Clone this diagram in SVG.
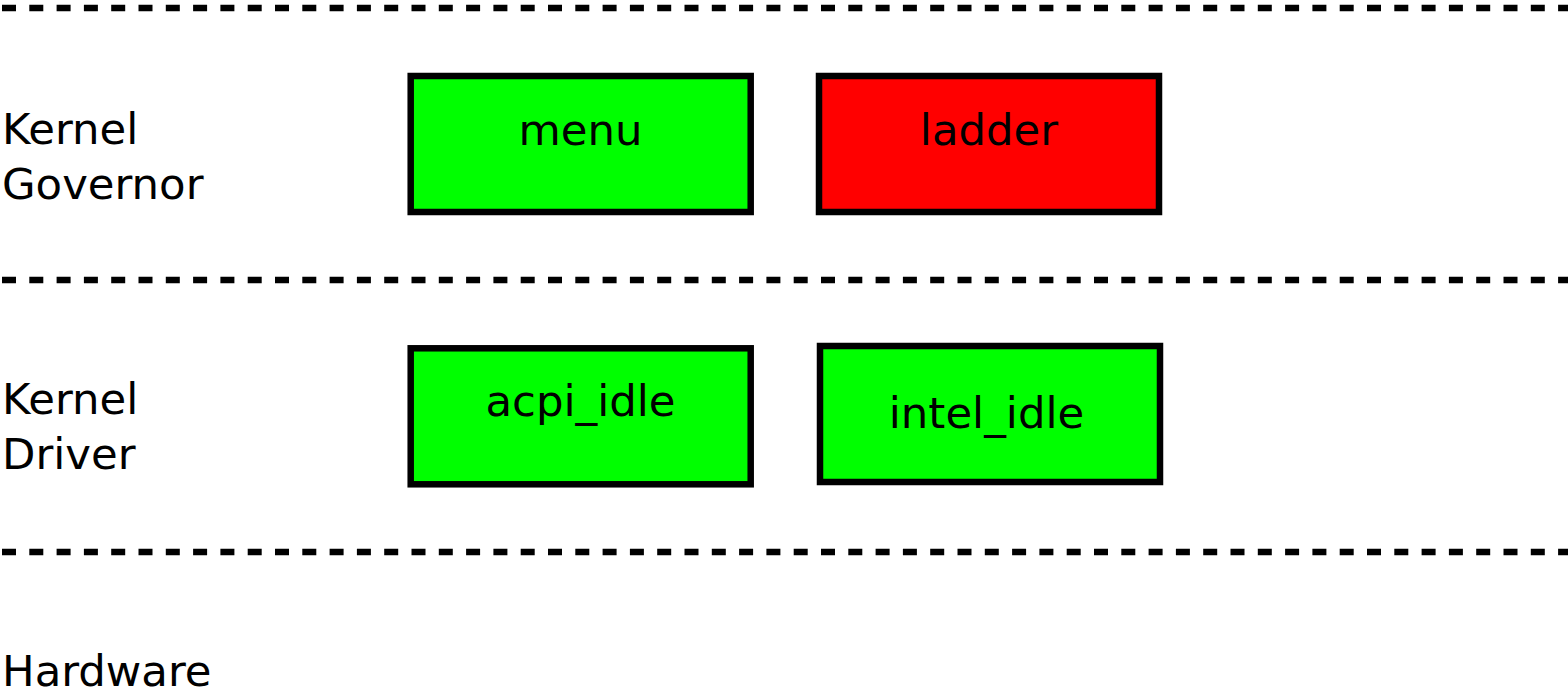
<svg xmlns="http://www.w3.org/2000/svg" width="1568" height="692" viewBox="0 0 1568 692">
  <style>
    .sep { stroke: #000; stroke-width: 6.5; stroke-dasharray: 14 13.3; fill: none; }
    .box { stroke: #000; stroke-width: 6.5; }
    .ok { fill: #00ff00; }
    .bad { fill: #ff0000; }
    text { font-family: "DejaVu Sans", "Liberation Sans", sans-serif; font-size: 43.4px; fill: #000; }
    .c { text-anchor: middle; }
  </style>
  <rect width="1568" height="692" fill="#fff"/>

  <!-- layer separators -->
  <g id="separators">
    <line class="sep" x1="2" y1="8" x2="1568" y2="8"/>
    <line class="sep" x1="2" y1="280" x2="1568" y2="280"/>
    <line class="sep" x1="2" y1="552" x2="1568" y2="552"/>
  </g>

  <!-- layer labels -->
  <g id="labels">
    <text x="2" y="144">Kernel</text>
    <text x="2" y="199">Governor</text>
    <text x="2" y="414">Kernel</text>
    <text x="2" y="469">Driver</text>
    <text x="2" y="686">Hardware</text>
  </g>

  <g id="connectors"></g>

  <g id="menu">
    <rect class="box ok" x="410.7" y="76" width="340" height="136"/>
    <text class="c" x="580.5" y="145">menu</text>
  </g>
  <g id="ladder">
    <rect class="box bad" x="819" y="76" width="340" height="136"/>
    <text class="c" x="989" y="145">ladder</text>
  </g>
  <g id="acpi_idle">
    <rect class="box ok" x="410.7" y="348.3" width="340" height="136"/>
    <text class="c" x="580.5" y="416">acpi_idle</text>
  </g>
  <g id="intel_idle">
    <rect class="box ok" x="820" y="346" width="340" height="136"/>
    <text class="c" x="986.5" y="428.3">intel_idle</text>
  </g>
</svg>
